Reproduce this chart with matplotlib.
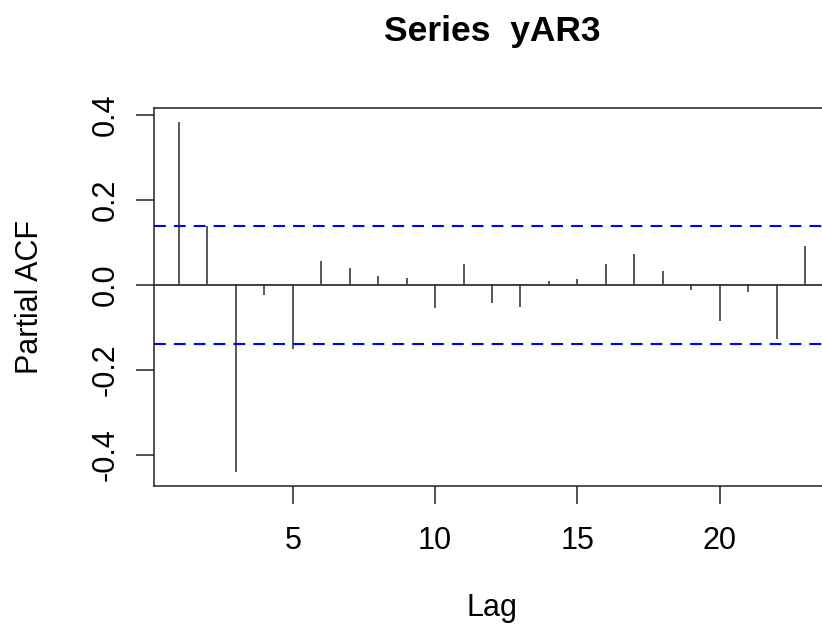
import numpy as np
import matplotlib
matplotlib.use("Agg")
import matplotlib.pyplot as plt

plt.rcParams['font.family'] = ['Liberation Sans', 'DejaVu Sans']
plt.rcParams['lines.scale_dashes'] = False

# Sample partial autocorrelations of yAR3, lags 1..23
lags = np.arange(1, 24)
pacf = [0.383, 0.139, -0.439, -0.024, -0.151, 0.055, 0.039, 0.020, 0.016,
        -0.055, 0.050, -0.042, -0.053, 0.008, 0.014, 0.049, 0.072, 0.033,
        -0.012, -0.085, -0.017, -0.127, 0.092]
n_obs = 200
clim = 1.96 / np.sqrt(n_obs)

x_ticks = [5, 10, 15, 20]
y_ticks = [-0.4, -0.2, 0.0, 0.2, 0.4]

W, H = 822, 627
fig = plt.figure(figsize=(W / 100, H / 100), dpi=100)
left, right, top, bottom = 154, 830, 108, 485.6
ax = fig.add_axes([left / W, 1 - bottom / H, (right - left) / W, (bottom - top) / H])

# R-style limits: data range padded by 4%
xr = lags.max() - lags.min()
ax.set_xlim(lags.min() - 0.04 * xr, lags.max() + 0.04 * xr)
ylo = min(min(pacf), -clim)
yhi = max(max(pacf), clim)
yr = yhi - ylo
ax.set_ylim(ylo - 0.04 * yr, yhi + 0.04 * yr)

ax.vlines(lags, 0, pacf, color='#2a2a2a', lw=1.1)
ax.axhline(0, color='#333333', lw=1.3)
for c in (clim, -clim):
    ax.axhline(c, color='#0000ff', lw=1.5, dashes=(8.5, 5.8))

for s in ax.spines.values():
    s.set_linewidth(1.1)
    s.set_color('#222222')

ax.set_xticks(x_ticks)
ax.set_xticklabels([str(t) for t in x_ticks])
ax.set_yticks(y_ticks)
ax.set_yticklabels([f"{t:.1f}" for t in y_ticks], rotation=90, va='center')
ax.tick_params(axis='both', length=13, width=1.1, color='#222222',
               labelsize=22)
ax.tick_params(axis='x', pad=16)
ax.tick_params(axis='y', pad=11)

fig.text(492 / W, 1 - 608 / H, "Lag", fontsize=22, ha='center', va='center')
fig.text(30 / W, 1 - 297 / H, "Partial ACF", fontsize=22, rotation=90,
         ha='center', va='center')
fig.text(492 / W, 1 - 31 / H, "Series  yAR3", fontsize=25.5,
         fontweight='bold', ha='center', va='center')

fig.savefig("out.png", dpi=100, facecolor='white')
